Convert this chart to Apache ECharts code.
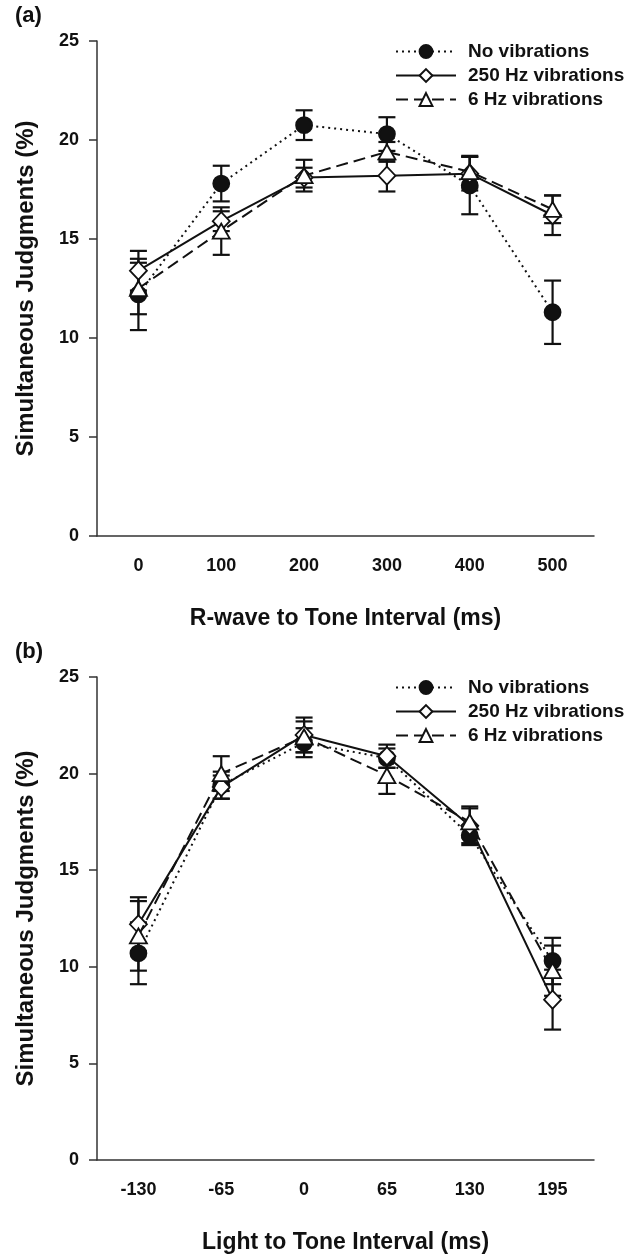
<!DOCTYPE html>
<html>
<head>
<meta charset="utf-8">
<script src="https://cdn.jsdelivr.net/npm/echarts@6/dist/echarts.min.js"></script>
<style>
html,body{margin:0;padding:0;background:#fff;}
#c{width:641px;height:1255px;}
</style>
</head>
<body>
<div id="c"></div>
<script>
// ---- Data ----
var catsA = ['0', '100', '200', '300', '400', '500'];
var noVibA = [12.2, 17.8, 20.75, 20.3, 17.7, 11.3];
var noVibErrA = [1.8, 0.9, 0.75, 0.85, 1.45, 1.6];
var hz250A = [13.4, 15.9, 18.1, 18.2, 18.3, 16.2];
var hz250ErrA = [1.0, 0.5, 0.5, 0.8, 0.85, 1.0];
var hz6A = [12.5, 15.4, 18.2, 19.4, 18.4, 16.5];
var hz6ErrA = [1.3, 1.2, 0.8, 0.5, 0.8, 0.7];

var catsB = ['-130', '-65', '0', '65', '130', '195'];
var noVibB = [10.7, 19.4, 21.6, 20.8, 16.8, 10.3];
var noVibErrB = [1.6, 0.7, 0.75, 0.5, 0.5, 1.2];
var hz250B = [12.2, 19.3, 22.0, 20.9, 17.3, 8.3];
var hz250ErrB = [1.4, 0.6, 0.9, 0.6, 0.9, 1.55];
var hz6B = [11.6, 20.0, 21.9, 19.9, 17.5, 9.8];
var hz6ErrB = [1.8, 0.9, 0.8, 0.95, 0.8, 1.3];

var yTicks = [0, 5, 10, 15, 20, 25];
var seriesNames = ['No vibrations', '250 Hz vibrations', '6 Hz vibrations'];
var xTitles = ['R-wave to Tone Interval (ms)', 'Light to Tone Interval (ms)'];
var yTitle = 'Simultaneous Judgments (%)';
var panelLabels = ['(a)', '(b)'];

// ---- Chart ----
var FONT = 'Liberation Sans, Arial, sans-serif';
var INK = '#111';
var chart = echarts.init(document.getElementById('c'), null, {renderer: 'canvas'});

function errData(vals, errs) {
  return vals.map(function (v, i) { return [i, v - errs[i], v + errs[i]]; });
}
function renderErr(params, api) {
  var x = api.value(0), lo = api.value(1), hi = api.value(2);
  var pLo = api.coord([x, lo]), pHi = api.coord([x, hi]);
  var w = 8.5;
  var st = {stroke: INK, lineWidth: 2.2};
  return {type: 'group', children: [
    {type: 'line', shape: {x1: pLo[0], y1: pLo[1], x2: pHi[0], y2: pHi[1]}, style: st},
    {type: 'line', shape: {x1: pLo[0] - w, y1: pLo[1], x2: pLo[0] + w, y2: pLo[1]}, style: st},
    {type: 'line', shape: {x1: pHi[0] - w, y1: pHi[1], x2: pHi[0] + w, y2: pHi[1]}, style: st}
  ]};
}

var styles = [
  {symbol: 'circle', symbolSize: 16, lineType: [2, 4], fill: INK},
  {symbol: 'diamond', symbolSize: [17, 18], lineType: 'solid', fill: '#fff'},
  {symbol: 'triangle', symbolSize: [17, 15], lineType: [12, 6], fill: '#fff'}
];

var panels = [
  {cats: catsA, vals: [noVibA, hz250A, hz6A], errs: [noVibErrA, hz250ErrA, hz6ErrA], top: 41},
  {cats: catsB, vals: [noVibB, hz250B, hz6B], errs: [noVibErrB, hz250ErrB, hz6ErrB], top: 677}
];
var H = 495;

var grids = [], xAxes = [], yAxes = [], series = [], legends = [], graphics = [];
panels.forEach(function (p, pi) {
  grids.push({left: 97, top: p.top, width: 497, height: H, containLabel: false});
  xAxes.push({
    type: 'category', gridIndex: pi, data: p.cats, boundaryGap: true,
    name: xTitles[pi], nameLocation: 'middle', nameGap: 71,
    nameTextStyle: {fontFamily: FONT, fontWeight: 'bold', fontSize: 23, color: INK},
    axisLine: {lineStyle: {color: '#333', width: 1.5}},
    axisTick: {alignWithLabel: true, length: 8, lineStyle: {color: '#333', width: 1.5}},
    axisLabel: {fontFamily: FONT, fontWeight: 'bold', fontSize: 18, color: INK, margin: 21},
    splitLine: {show: false}
  });
  yAxes.push({
    type: 'value', gridIndex: pi, min: yTicks[0], max: yTicks[yTicks.length - 1], interval: 5,
    name: yTitle, nameLocation: 'middle', nameGap: 59, nameRotate: 90,
    nameTextStyle: {fontFamily: FONT, fontWeight: 'bold', fontSize: 24, color: INK},
    axisLine: {show: true, lineStyle: {color: '#333', width: 1.5}},
    axisTick: {show: true, length: 8, lineStyle: {color: '#333', width: 1.5}},
    axisLabel: {fontFamily: FONT, fontWeight: 'bold', fontSize: 18, color: INK, margin: 18},
    splitLine: {show: false}
  });
  // error bars (below markers)
  p.vals.forEach(function (vals, si) {
    series.push({
      type: 'custom', name: seriesNames[si] + ' err', xAxisIndex: pi, yAxisIndex: pi,
      renderItem: renderErr, data: errData(vals, p.errs[si]), z: 2, silent: true
    });
  });
  p.vals.forEach(function (vals, si) {
    var s = styles[si];
    series.push({
      type: 'line', name: seriesNames[si], xAxisIndex: pi, yAxisIndex: pi,
      data: vals, symbol: s.symbol, symbolSize: s.symbolSize, showAllSymbol: true,
      lineStyle: {color: INK, width: 2, type: s.lineType},
      itemStyle: {color: s.fill, borderColor: INK, borderWidth: 1.8},
      z: 3 + si, animation: false
    });
  });
  legends.push({
    data: seriesNames, orient: 'vertical', left: 395, top: p.top + 1, padding: 0,
    itemWidth: 60, itemHeight: 16, itemGap: 5, selectedMode: false,
    textStyle: {fontFamily: FONT, fontWeight: 'bold', fontSize: 19, color: INK, padding: [0, 0, 0, 7]}
  });
  graphics.push({
    type: 'text', left: 15, top: p.top - 36,
    style: {text: panelLabels[pi], font: 'bold 22px ' + FONT, fill: INK}
  });
});

chart.setOption({
  animation: false,
  backgroundColor: '#fff',
  grid: grids, xAxis: xAxes, yAxis: yAxes, series: series, legend: legends,
  graphic: graphics
});
</script>
</body>
</html>
